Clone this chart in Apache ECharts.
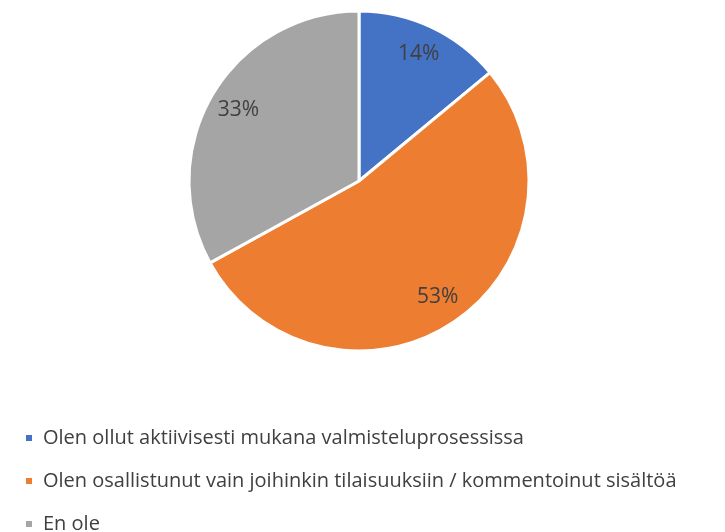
<!DOCTYPE html>
<html>
<head>
<meta charset="utf-8">
<script src="https://cdn.jsdelivr.net/npm/echarts@6/dist/echarts.min.js"></script>
<style>
    html, body { margin: 0; padding: 0; background: #fff; }
    #main { width: 725px; height: 532px; }
</style>
</head>
<body>
<div id="main"></div>
<script>
var categories = ['Olen ollut aktiivisesti mukana valmisteluprosessissa',
    'Olen osallistunut vain joihinkin tilaisuuksiin / kommentoinut sisältöä',
    'En ole'];
var values = [14, 53, 33];
var colors = ['#4472C4', '#ED7D31', '#A5A5A5'];

var chart = echarts.init(document.getElementById('main'));

var pieData = categories.map(function (name, i) {
    return {name: name, value: values[i]};
});

var option = {
    backgroundColor: '#fff',
    color: colors,
    textStyle: {fontFamily: 'Open Sans'},
    legend: {
        orient: 'vertical',
        left: 19,
        top: 422,
        height: 130,
        itemGap: 21,
        itemWidth: 8,
        itemHeight: 8,
        icon: 'rect',
        textStyle: {fontSize: 20, lineHeight: 22, padding: [0, 0, 0, 5], color: '#404040', fontFamily: 'Open Sans'},
        data: categories
    },
    series: [
        {
            // 饼图本体
            type: 'pie',
            center: [359, 181],
            radius: [0, 170],
            startAngle: 90,
            clockwise: true,
            animation: false,
            itemStyle: {borderColor: '#fff', borderWidth: 3},
            label: {show: false},
            labelLine: {show: false},
            data: pieData
        },
        {
            // 透明环，只放标签（约80%半径处）
            type: 'pie',
            center: [359, 181],
            radius: [104, 170],
            startAngle: 90,
            clockwise: true,
            animation: false,
            silent: true,
            legendHoverLink: false,
            percentPrecision: 0,
            itemStyle: {color: 'transparent'},
            label: {
                show: true,
                position: 'inside',
                formatter: '{d}%',
                fontSize: 21,
                color: '#404040',
                fontFamily: 'Open Sans'
            },
            labelLine: {show: false},
            data: pieData
        }
    ]
};
chart.setOption(option);
</script>
</body>
</html>
